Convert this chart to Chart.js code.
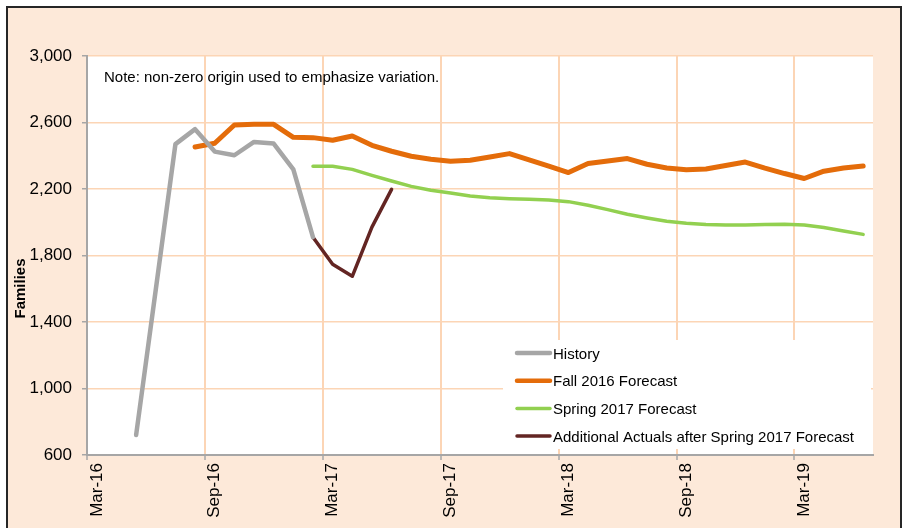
<!DOCTYPE html>
<html>
<head>
<meta charset="utf-8">
<script src="https://cdn.jsdelivr.net/npm/chart.js@4.4.0/dist/chart.umd.min.js"></script>
<style>
html,body{margin:0;padding:0;background:#fff;overflow:hidden}
#frame{position:absolute;left:6px;top:6px;width:892px;height:540px;border:2px solid #262626;background:#FDE9D9}
#wrap{position:absolute;left:0;top:0;width:902px;height:528px}
</style>
</head>
<body>
<div id="frame"></div>
<div id="wrap"><canvas id="chart" width="902" height="528"></canvas></div>
<script>
// Data (one value per month, null = no value)
const months=['Mar-16','Apr-16','May-16','Jun-16','Jul-16','Aug-16','Sep-16','Oct-16','Nov-16','Dec-16',
  'Jan-17','Feb-17','Mar-17','Apr-17','May-17','Jun-17','Jul-17','Aug-17','Sep-17','Oct-17',
  'Nov-17','Dec-17','Jan-18','Feb-18','Mar-18','Apr-18','May-18','Jun-18','Jul-18','Aug-18',
  'Sep-18','Oct-18','Nov-18','Dec-18','Jan-19','Feb-19','Mar-19','Apr-19','May-19','Jun-19'];
const tickLabels=['Mar-16','Sep-16','Mar-17','Sep-17','Mar-18','Sep-18','Mar-19'];

const history=[null,null,720,1595,2470,2560,2425,2403,2483,2473,2318,1910];
const fall2016=[null,null,null,null,null,2453,2475,2585,2589,2589,
  2511,2509,2493,2519,2463,2427,2397,2379,2367,2373,
  2392,2413,2375,2337,2299,2353,2368,2383,2349,2326,
  2316,2320,2341,2362,2326,2293,2263,2307,2326,2338];
const spring2017=[null,null,null,null,null,null,null,null,null,null,
  null,2337,2337,2318,2282,2248,2216,2192,2176,2158,
  2148,2142,2138,2134,2124,2102,2076,2048,2026,2006,
  1994,1986,1983,1983,1986,1988,1983,1968,1947,1927];
const additional=[null,null,null,null,null,null,null,null,null,null,
  null,1910,1747,1675,1971,2198];

const seriesNames=['History','Fall 2016 Forecast','Spring 2017 Forecast','Additional Actuals after Spring 2017 Forecast'];
const seriesColors=['#A6A6A6','#E46C0A','#92D050','#632523'];
const seriesWidths=[4.5,5,3.5,3.5];
const note='Note: non-zero origin used to emphasize variation.';

const FONT='"Liberation Sans", Arial, sans-serif';
const gridPeach='#FCD5B5';
const axisGray='#A6A6A6';

const plotBg={
  id:'plotBg',
  beforeDraw(chart){
    const a=chart.chartArea, c=chart.ctx;
    c.save();
    c.fillStyle='#fff';
    c.fillRect(a.left,a.top,a.right-a.left,a.bottom-a.top);
    c.restore();
  }
};

// legend box sitting inside the plot, bottom right
const boxLegend={
  id:'boxLegend',
  afterDatasetsDraw(chart){
    const c=chart.ctx;
    c.save();
    c.fillStyle='#fff';
    c.fillRect(503,340,368,109);
    chart.data.datasets.forEach((ds,i)=>{
      const y=353+i*27.7;
      c.strokeStyle=ds.borderColor;
      c.lineWidth=Math.min(ds.borderWidth,4.5);
      c.lineCap='round';
      c.beginPath(); c.moveTo(517,y); c.lineTo(550,y); c.stroke();
      c.fillStyle='#000';
      c.font='15px '+FONT;
      c.textAlign='left';
      c.textBaseline='alphabetic';
      c.fillText(ds.label,553,y+5.5);
    });
    c.restore();
  }
};

const extraText={
  id:'extraText',
  afterDraw(chart){
    const c=chart.ctx;
    c.save();
    c.fillStyle='#000';
    c.font='15px '+FONT;
    c.textAlign='left';
    c.textBaseline='alphabetic';
    c.fillText(note,104,82);
    c.font='bold 15px '+FONT;
    c.translate(25,288.5);
    c.rotate(-Math.PI/2);
    c.textAlign='center';
    c.fillText('Families',0,0);
    c.restore();
  }
};

const allSeries=[history,fall2016,spring2017,additional];
const datasets=allSeries.map((s,k)=>({
  label:seriesNames[k],
  data:months.map((m,i)=>s[i]===undefined?null:s[i]),
  borderColor:seriesColors[k],
  backgroundColor:seriesColors[k],
  borderWidth:seriesWidths[k],
  pointRadius:0,
  tension:0,
  fill:false,
  borderCapStyle:'round',
  borderJoinStyle:'round',
  spanGaps:false
}));

const ctx=document.getElementById('chart').getContext('2d');
new Chart(ctx,{
  type:'line',
  data:{labels:months,datasets},
  options:{
    responsive:false,
    animation:false,
    devicePixelRatio:1,
    layout:{padding:{left:0,top:56,right:29,bottom:0}},
    plugins:{legend:{display:false},title:{display:false},tooltip:{enabled:false}},
    scales:{
      x:{
        type:'category',
        offset:true,
        afterFit(s){s.height=73;},
        grid:{
          offset:true,
          drawTicks:true,
          tickLength:5,
          lineWidth:2,
          color:c=>(c.index%6===0&&c.index>0&&c.index<months.length)?gridPeach:'rgba(0,0,0,0)',
          tickColor:c=>(c.index%6===0)?axisGray:'rgba(0,0,0,0)',
          tickWidth:1.5
        },
        border:{color:axisGray,width:2},
        ticks:{
          autoSkip:false,
          maxRotation:90,
          minRotation:90,
          padding:3,
          color:'#000',
          font:{family:FONT,size:17},
          callback:(v,i)=>tickLabels.includes(months[i])?months[i]:''
        }
      },
      y:{
        min:600,
        max:3000,
        afterFit(s){s.width=87;},
        grid:{color:gridPeach,lineWidth:1.5,tickLength:5,tickColor:axisGray,tickWidth:1.5},
        border:{color:axisGray,width:2},
        ticks:{
          stepSize:400,
          padding:10,
          color:'#000',
          font:{family:FONT,size:17},
          callback:v=>v.toLocaleString('en-US')
        }
      }
    }
  },
  plugins:[plotBg,boxLegend,extraText]
});
</script>
</body>
</html>
